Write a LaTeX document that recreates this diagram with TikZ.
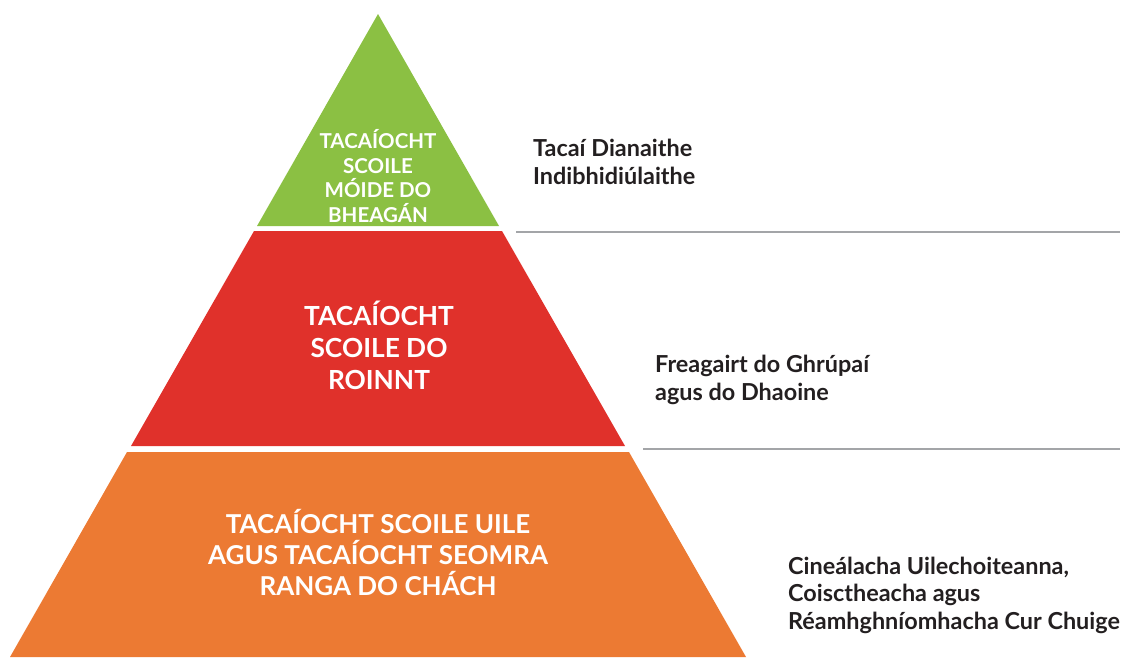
\documentclass[tikz,border=0pt]{standalone}
\usepackage{fontspec}
\setmainfont{Lato}
\usetikzlibrary{positioning}
\definecolor{tiergreen}{HTML}{8BC043}
\definecolor{tierred}{HTML}{E0312B}
\definecolor{tierorange}{HTML}{EC7A33}
\definecolor{rulegray}{HTML}{A3A5A8}
\definecolor{labeltext}{HTML}{231F20}
\tikzset{
    tiertext/.style={text=white, align=center, inner sep=0pt},
    sidetext/.style={text=labeltext, align=left, anchor=west, inner sep=0pt,
        font=\fontsize{23.4}{27.5}\selectfont\bfseries},
    tierrule/.style={draw=rulegray, line width=2.4pt}
}
\begin{document}
\begin{tikzpicture}[x=1pt,y=-1pt]
        \useasboundingbox (0,0) rectangle (1123,657);

        \fill[tiergreen]  (378,14)  -- (499,226) -- (257,226) -- cycle;
        \fill[tierred]    (254,231) -- (502,231) -- (625,446) -- (131,446) -- cycle;
        \fill[tierorange] (127,452) -- (629,452) -- (746,657) -- (10,657)  -- cycle;

        \node[tiertext, font=\fontsize{20.5}{24.5}\selectfont\bfseries] (tgreen)  at (378,176) {TACAÍOCHT\\SCOILE\\MÓIDE DO\\BHEAGÁN};
        \node[tiertext, font=\fontsize{26.3}{32}\selectfont\bfseries]   (tred)    at (379,345) {TACAÍOCHT\\SCOILE DO\\ROINNT};
        \node[tiertext, font=\fontsize{26}{31}\selectfont\bfseries]     (torange) at (378,552) {TACAÍOCHT SCOILE UILE\\AGUS TACAÍOCHT SEOMRA\\RANGA DO CHÁCH};

        \node[sidetext] (lgreen)  at (533,162) {Tacaí Dianaithe\\Indibhidiúlaithe};
        \node[sidetext] (lred)    at (655,380) {Freagairt do Ghrúpaí\\agus do Dhaoine};
        \node[sidetext] (lorange) at (788,595) {Cineálacha Uilechoiteanna,\\Coisctheacha agus\\Réamhghníomhacha Cur Chuige};

        \coordinate (rgreen)  at (516,232);
        \coordinate (rgreenend) at (1120,232);
        \coordinate (rred)    at (643,449);
        \coordinate (rredend)   at (1120,449);
        \draw[tierrule] (rgreen) -- (rgreenend);
        \draw[tierrule] (rred) -- (rredend);

\end{tikzpicture}
\end{document}
